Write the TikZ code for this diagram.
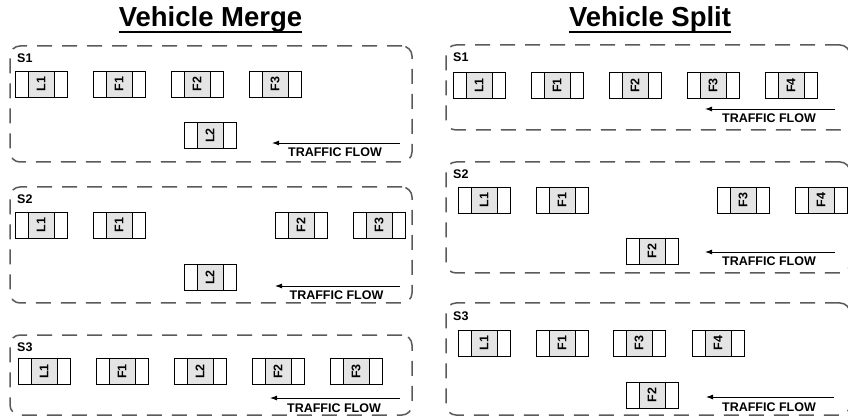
\documentclass[tikz,border=0pt]{standalone}
\usepackage{fontspec}
\setmainfont{Liberation Sans}
\usetikzlibrary{arrows.meta,calc}

\definecolor{dashgray}{HTML}{5A5A5A}
\definecolor{cargray}{HTML}{E4E4E4}

% one vehicle: grey body with a white cell on each side
\newcommand\car[4]{%
  \node[carbody] (#1) at (#2,#3) {\rotatebox{90}{#4}};
  \node[carside, anchor=east] (#1-l) at (#1.west) {};
  \node[carside, anchor=west] (#1-r) at (#1.east) {};
}
% a scene frame with its label and traffic-flow arrow
\newcommand\scene[9]{% name, cx, cy, w, h, label, arrow y, arrow x from, arrow x to
  \node[scenebox, minimum width=#4pt, minimum height=#5pt] (#1) at (#2,#3) {};
  \node[scenelabel] (#1-lab) at ([xshift=7pt,yshift=-17pt]#1.north west) {#6};
  \coordinate (#1-a0) at (#8,#7);
  \coordinate (#1-a1) at (#9,#7);
  \draw[flowarrow] (#1-a0) -- (#1-a1);
  \node[flowtext] (#1-txt) at ([xshift=-1pt,yshift=-14pt]$(#1-a0)!0.5!(#1-a1)$) {TRAFFIC FLOW};
}

\begin{document}
\begin{tikzpicture}[x=1pt, y=-1pt,
  scenebox/.style={draw=dashgray, line width=1.5pt, dash pattern=on 15pt off 10pt,
    rounded corners=10pt, inner sep=0pt, outer sep=0pt},
  scenelabel/.style={anchor=base west, inner sep=0pt, font=\bfseries\fontsize{12.5}{14}\selectfont},
  flowtext/.style={anchor=base, inner sep=0pt, font=\bfseries\fontsize{12.5}{14}\selectfont},
  flowarrow/.style={line width=0.9pt, -{Latex[length=7pt,width=5pt]}},
  carbody/.style={draw, line width=0.8pt, fill=cargray, minimum width=26pt, minimum height=26pt,
    inner sep=0pt, outer sep=0pt, font=\bfseries\fontsize{12.5}{14}\selectfont},
  carside/.style={draw, line width=0.8pt, fill=white, minimum width=13pt, minimum height=26pt,
    inner sep=0pt, outer sep=0pt},
  title/.style={anchor=base, inner sep=0pt, font=\bfseries\fontsize{27.5}{32}\selectfont}]

\useasboundingbox (0,0) rectangle (848,419);
\clip (0,0) rectangle (848,419);

% ---------- titles ----------
\node[title] (tmerge) at (210.5,27) {Vehicle Merge};
\draw[line width=1.8pt] ([yshift=-5pt]tmerge.base west) -- ([yshift=-5pt]tmerge.base east);
\node[title] (tsplit) at (650,27) {Vehicle Split};
\draw[line width=1.8pt] ([yshift=-5pt]tsplit.base west) -- ([yshift=-5pt]tsplit.base east);

% ---------- vehicle merge ----------
\scene{m1}{211}{104}{402}{116}{S1}{143}{400}{272}
\car{m1L1}{41}{84}{L1}
\car{m1F1}{119}{84}{F1}
\car{m1F2}{197}{84}{F2}
\car{m1F3}{275}{84}{F3}
\car{m1L2}{210}{135.5}{L2}

\scene{m2}{211}{245}{402}{116}{S2}{286}{400}{275}
\car{m2L1}{41}{225}{L1}
\car{m2F1}{119}{225}{F1}
\car{m2F2}{301}{225}{F2}
\car{m2F3}{379}{225}{F3}
\car{m2L2}{210}{277.5}{L2}

\scene{m3}{211}{375}{402}{80}{S3}{398}{400}{270}
\car{m3L1}{44}{371.5}{L1}
\car{m3F1}{122}{371.5}{F1}
\car{m3L2}{200}{371.5}{L2}
\car{m3F2}{278}{371.5}{F2}
\car{m3F3}{356}{371.5}{F3}

% ---------- vehicle split ----------
\scene{s1}{648}{87.5}{404}{85}{S1}{109}{835}{705}
\car{s1L1}{479}{85.5}{L1}
\car{s1F1}{557}{85.5}{F1}
\car{s1F2}{635}{85.5}{F2}
\car{s1F3}{713}{85.5}{F3}
\car{s1F4}{791}{85.5}{F4}

\scene{s2}{648}{217.5}{404}{111}{S2}{252}{835}{705}
\car{s2L1}{484}{200}{L1}
\car{s2F1}{562}{200}{F1}
\car{s2F3}{743}{200}{F3}
\car{s2F4}{821}{200}{F4}
\car{s2F2}{652}{251}{F2}

\scene{s3}{648}{359}{404}{112}{S3}{397}{834}{706}
\car{s3L1}{484}{343}{L1}
\car{s3F1}{562}{343}{F1}
\car{s3F3}{639}{343}{F3}
\car{s3F4}{718}{343}{F4}
\car{s3F2}{652}{395}{F2}

\end{tikzpicture}
\end{document}
